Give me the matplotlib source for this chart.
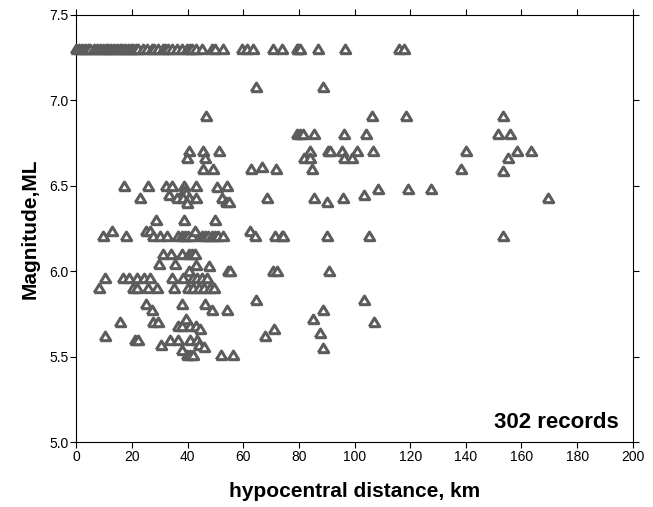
import matplotlib
matplotlib.use("Agg")
import matplotlib.pyplot as plt

plt.rcParams["font.family"] = ["Liberation Sans", "DejaVu Sans"]

# distance (km) / magnitude pairs, grouped by rows of similar magnitude
dist_top = [0, 1, 2, 3, 4, 5, 6.5, 7.5, 8.5, 9.5, 10.5, 11.5, 12.5,
            13.5, 14.5, 15.5, 16.5, 17.5, 18.5, 19.5, 20.5, 21.5, 22.2,
            24, 25.5, 27, 28, 29.5, 31, 32, 33, 34.5, 36, 37.8,
            39.6, 41, 41.4, 43, 45, 48.6, 49.8, 52.6,
            59.4, 61.2, 63.6, 70.8, 73.8, 79.2, 79.8, 80.4, 87, 96.6, 115.8, 117.6]
mag_top = [7.3] * len(dist_top)

dist_hi = [64.5, 88.6, 46.5, 106.4, 118.5, 153.5,
           79.2, 80.4, 81.6, 85.4, 96.3, 104.1, 151.4, 155.7,
           40.5, 45.4, 51.3, 84, 90.6, 91.2, 95.4, 100.8, 106.8, 140.1, 158.3, 163.5,
           39.9, 46.2, 81.9, 84, 96.3, 99.2, 155.3,
           45.6, 49, 62.8, 66.8, 71.8, 84.6, 138.4, 153.5]
mag_hi = [7.08, 7.08, 6.91, 6.91, 6.91, 6.91,
          6.805, 6.805, 6.805, 6.805, 6.805, 6.805, 6.805, 6.805,
          6.70, 6.70, 6.70, 6.70, 6.70, 6.70, 6.70, 6.70, 6.70, 6.70, 6.70, 6.70,
          6.66, 6.66, 6.66, 6.66, 6.66, 6.66, 6.66,
          6.60, 6.60, 6.60, 6.61, 6.60, 6.60, 6.60, 6.585]

dist_mid = [17.2, 25.8, 32.2, 34.2, 38.7, 42.9, 54.2, 38.7, 39.5, 50.4, 108.3, 119.1, 127.5,
            22.8, 33.4, 36.3, 38.4, 40.5, 42.9, 39.6, 52.2, 53.7, 55, 68.4, 85.4, 90.2,
            95.8, 103.5, 169.7,
            28.5, 38.8, 49.8,
            9.6, 12.7, 17.8, 25, 26.4, 27.6, 30, 32.4, 36.6, 38, 39, 40.2, 41.4, 42.6,
            45, 46.2, 47.4, 48.6, 49.8, 51, 52.8, 62.4, 64.2, 71.4, 73.8, 74.4, 90,
            105.2, 153.2,
            31.2, 34, 37.8, 40.5, 41.4, 42.6,
            29.8, 35.4, 43, 47.8,
            40.5, 54.5, 55.2, 70.6, 72, 90.9]
mag_mid = [6.50, 6.50, 6.50, 6.50, 6.50, 6.50, 6.50, 6.47, 6.46, 6.49, 6.48, 6.48, 6.48,
           6.425, 6.445, 6.425, 6.425, 6.425, 6.425, 6.40, 6.425, 6.405, 6.405, 6.425,
           6.425, 6.405, 6.425, 6.445, 6.43,
           6.30, 6.30, 6.30,
           6.205, 6.235, 6.205, 6.235, 6.235, 6.205, 6.205, 6.205, 6.205, 6.205, 6.205,
           6.205, 6.205, 6.235, 6.205, 6.205, 6.205, 6.205, 6.205, 6.205, 6.205, 6.235,
           6.205, 6.205, 6.205, 6.205, 6.205, 6.205, 6.205,
           6.10, 6.10, 6.10, 6.10, 6.10, 6.10,
           6.04, 6.04, 6.035, 6.03,
           6.00, 6.00, 6.00, 6.00, 6.00, 6.00]

dist_low = [10.3, 16.8, 19, 21.9, 24.3, 26.4, 34.2, 38.4, 42, 43.5, 45, 46.8,
            8.2, 20.4, 21.7, 25.8, 28.8, 35.1, 40.2, 42, 44, 46, 48, 49.5,
            25, 27, 37.8, 46.2, 48.6, 54.2, 64.5, 103.4, 88.6, 85.2, 107.1, 71.2, 87.6, 88.8,
            15.6, 27.4, 29.2, 36.4, 37.8, 40.8, 43, 39.4, 44.4,
            10.3, 67.8,
            21, 22.2, 33.6, 36.6, 40.8, 43.2, 30.3, 44.2, 45.9, 38.1,
            39.6, 41, 42, 52, 56.2]
mag_low = [5.96, 5.96, 5.96, 5.96, 5.96, 5.96, 5.96, 5.96, 5.96, 5.96, 5.96, 5.96,
           5.90, 5.90, 5.90, 5.90, 5.90, 5.90, 5.90, 5.90, 5.90, 5.90, 5.90, 5.90,
           5.81, 5.77, 5.81, 5.81, 5.77, 5.77, 5.83, 5.83, 5.77, 5.72, 5.70, 5.66, 5.64, 5.55,
           5.70, 5.70, 5.70, 5.68, 5.68, 5.68, 5.68, 5.72, 5.66,
           5.62, 5.62,
           5.60, 5.60, 5.60, 5.60, 5.60, 5.60, 5.57, 5.57, 5.555, 5.54,
           5.51, 5.51, 5.51, 5.51, 5.51]

dist = dist_top + dist_hi + dist_mid + dist_low
mag = mag_top + mag_hi + mag_mid + mag_low
n_records = 302

# slightly squat triangle, wider than tall
tri = [(-1.0, -0.8), (1.0, -0.8), (0.0, 0.85), (-1.0, -0.8)]

fig = plt.figure(figsize=(6.53, 5.07), dpi=100)
ax = fig.add_axes([0.117, 0.128, 0.852, 0.843])

ax.plot(dist, mag, linestyle="none", marker=tri, markersize=7.5,
        markerfacecolor="white", markeredgecolor="#5c5c5c", markeredgewidth=2.2,
        clip_on=False, zorder=3)

ax.set_xlim(0, 200)
ax.set_ylim(5.0, 7.5)
ax.set_xticks(range(0, 201, 20))
ax.set_yticks([5.0, 5.5, 6.0, 6.5, 7.0, 7.5])
ax.set_yticklabels(["5.0", "5.5", "6.0", "6.5", "7.0", "7.5"])
ax.tick_params(direction="out", length=4.5, width=0.8, labelsize=10,
               top=True, right=True, pad=1)

for s in ax.spines.values():
    s.set_linewidth(0.8)

ax.set_xlabel("hypocentral distance, km", fontsize=15, fontweight="bold", labelpad=13)
ax.set_ylabel("Magnitude,ML", fontsize=15, fontweight="bold", labelpad=7)

ax.text(0.975, 0.033, f"{n_records} records", transform=ax.transAxes,
        ha="right", va="baseline", fontsize=16, fontweight="bold")

fig.savefig("out.png", dpi=100)
